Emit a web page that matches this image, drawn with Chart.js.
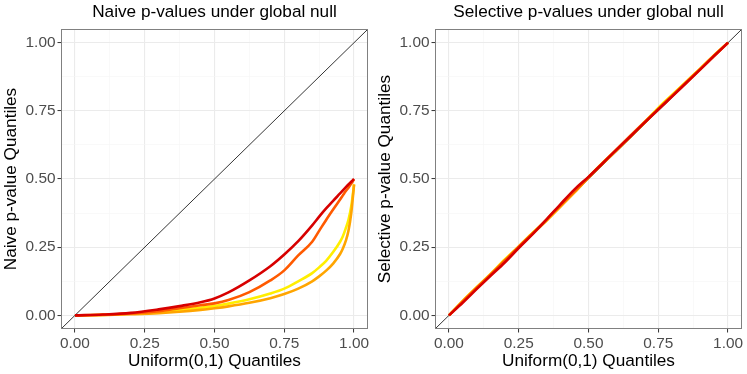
<!DOCTYPE html>
<html>
<head>
<meta charset="utf-8">
<script src="https://cdn.jsdelivr.net/npm/chart.js@4/dist/chart.umd.min.js"></script>
<style>
  html, body { margin: 0; padding: 0; background: #ffffff; }
  #wrap { position: relative; width: 747px; height: 374px; }
  #c1 { position: absolute; left: 0; top: 0; }
  #c2 { position: absolute; left: 374px; top: 0; }
</style>
</head>
<body>
<div id="wrap">
  <canvas id="c1" width="374" height="374"></canvas>
  <canvas id="c2" width="373" height="374"></canvas>
</div>
<script>
// ---- Data ----
const seriesNames = ["yellow", "orange", "orange-red", "red"];
const seriesColors = ["#FFEE00", "#FFA500", "#FF5A00", "#D70000"];

// Naive p-values panel: uniform quantiles (x) and observed quantiles (y)
const naiveQ = [0, 0.1, 0.2, 0.3, 0.375, 0.45, 0.5, 0.55, 0.625, 0.7, 0.75, 0.8, 0.85, 0.875, 0.9, 0.925, 0.95, 0.96, 0.97, 0.98, 0.99, 0.995, 1.0];
const naiveYellow = [0, 0.002, 0.006, 0.012, 0.020, 0.028, 0.034, 0.043, 0.059, 0.080, 0.098, 0.125, 0.155, 0.176, 0.200, 0.232, 0.270, 0.290, 0.318, 0.350, 0.400, 0.437, 0.480];
const naiveOrange = [0, 0.001, 0.004, 0.008, 0.013, 0.020, 0.026, 0.033, 0.046, 0.063, 0.078, 0.098, 0.125, 0.143, 0.164, 0.190, 0.225, 0.245, 0.272, 0.310, 0.375, 0.425, 0.480];
const naiveOrangeRed = [0, 0.002, 0.007, 0.015, 0.026, 0.037, 0.044, 0.056, 0.085, 0.128, 0.165, 0.220, 0.270, 0.310, 0.350, 0.388, 0.425, 0.440, 0.455, 0.468, 0.483, 0.491, 0.500];
const naiveRed = [0, 0.003, 0.009, 0.022, 0.034, 0.048, 0.062, 0.084, 0.128, 0.180, 0.223, 0.272, 0.330, 0.362, 0.392, 0.420, 0.447, 0.458, 0.469, 0.480, 0.490, 0.495, 0.500];

// Selective p-values panel
const selQ = [0, 0.05, 0.1, 0.15, 0.2, 0.25, 0.3, 0.35, 0.4, 0.45, 0.5, 0.55, 0.6, 0.65, 0.7, 0.75, 0.8, 0.85, 0.9, 0.95, 1.0];
const selYellow = [0, 0.054, 0.104, 0.153, 0.205, 0.253, 0.303, 0.349, 0.402, 0.452, 0.507, 0.559, 0.606, 0.657, 0.708, 0.761, 0.809, 0.857, 0.905, 0.954, 1.0];
const selOrange = [0, 0.051, 0.100, 0.149, 0.199, 0.250, 0.299, 0.348, 0.399, 0.451, 0.505, 0.556, 0.604, 0.655, 0.705, 0.756, 0.806, 0.853, 0.902, 0.952, 1.0];
const selOrangeRed = [0, 0.052, 0.102, 0.151, 0.201, 0.252, 0.301, 0.352, 0.404, 0.456, 0.506, 0.558, 0.609, 0.659, 0.708, 0.757, 0.806, 0.855, 0.904, 0.953, 1.0];
const selRed = [0, 0.047, 0.097, 0.146, 0.194, 0.247, 0.298, 0.352, 0.408, 0.462, 0.508, 0.557, 0.607, 0.656, 0.706, 0.755, 0.803, 0.852, 0.901, 0.951, 1.0];

// Reference line y = x spanning the full panel
const refLineX = [-0.05, 1.05];

// Axis ticks
const majorTicks = [0, 0.25, 0.5, 0.75, 1.0];
const allTicks = [0, 0.125, 0.25, 0.375, 0.5, 0.625, 0.75, 0.875, 1.0];

const titles = ["Naive p-values under global null", "Selective p-values under global null"];
const yTitles = ["Naive p-value Quantiles", "Selective p-value Quantiles"];
const xTitle = "Uniform(0,1) Quantiles";

// ---- Helpers ----
const FONT = "'Liberation Sans', Arial, sans-serif";
function pts(xs, ys) { return xs.map((x, i) => ({ x: x, y: ys[i] })); }
function isMajor(v) { return majorTicks.some(m => Math.abs(m - v) < 1e-9); }

const panelBorder = {
  id: 'panelBorder',
  afterDraw(chart) {
    const a = chart.chartArea, ctx = chart.ctx;
    ctx.save();
    ctx.strokeStyle = '#808080';
    ctx.lineWidth = 1;
    ctx.strokeRect(Math.round(a.left) + 0.5, Math.round(a.top) + 0.5,
                   Math.round(a.right - a.left) - 1, Math.round(a.bottom - a.top) - 1);
    ctx.restore();
  }
};

function axis(isX, titleText) {
  return {
    type: 'linear',
    min: -0.05, max: 1.05,
    afterBuildTicks: (s) => { s.ticks = allTicks.map(v => ({ value: v })); },
    afterFit: (s) => { if (isX) s.height = 45; else s.width = 61; },
    grid: {
      color: (ctx) => isMajor(ctx.tick.value) ? '#EBEBEB' : '#F5F5F5',
      lineWidth: (ctx) => isMajor(ctx.tick.value) ? 1.1 : 0.6,
      drawTicks: true,
      tickLength: 3.5,
      tickColor: (ctx) => isMajor(ctx.tick.value) ? '#333333' : 'rgba(0,0,0,0)',
      tickWidth: 1
    },
    border: { display: false },
    ticks: {
      autoSkip: false,
      maxRotation: 0,
      padding: 2,
      color: '#4D4D4D',
      font: { family: FONT, size: 15.4 },
      callback: (v) => isMajor(v) ? Number(v).toFixed(2) : ''
    },
    title: {
      display: true,
      text: titleText,
      color: '#000000',
      font: { family: FONT, size: 17.2 },
      padding: isX ? { top: 2, bottom: 2 } : { top: 1, bottom: 1 }
    }
  };
}

function makeChart(id, idx, q, ys, padRight) {
  const datasets = [];
  datasets.push({
    data: pts(refLineX, refLineX),
    borderColor: '#000000', borderWidth: 0.8, pointRadius: 0, order: 10
  });
  ys.forEach((arr, i) => {
    datasets.push({
      label: seriesNames[i],
      data: pts(q, arr),
      borderColor: seriesColors[i], borderWidth: 2.6, pointRadius: 0,
      cubicInterpolationMode: 'monotone', order: 4 - i
    });
  });
  return new Chart(document.getElementById(id), {
    type: 'line',
    data: { datasets: datasets },
    options: {
      responsive: false,
      animation: false,
      devicePixelRatio: 1,
      layout: { padding: { right: padRight, left: 0, top: 0, bottom: 0 } },
      plugins: {
        legend: { display: false },
        tooltip: { enabled: false },
        title: {
          display: true,
          fullSize: false,
          text: titles[idx],
          color: '#000000',
          font: { family: FONT, size: 17.2, weight: 'normal' },
          padding: { top: 2.2, bottom: 6.2 }
        }
      },
      scales: {
        x: axis(true, xTitle),
        y: axis(false, yTitles[idx])
      }
    },
    plugins: [panelBorder]
  });
}

makeChart('c1', 0, naiveQ, [naiveYellow, naiveOrange, naiveOrangeRed, naiveRed], 6);
makeChart('c2', 1, selQ, [selYellow, selOrange, selOrangeRed, selRed], 5);
</script>
</body>
</html>
